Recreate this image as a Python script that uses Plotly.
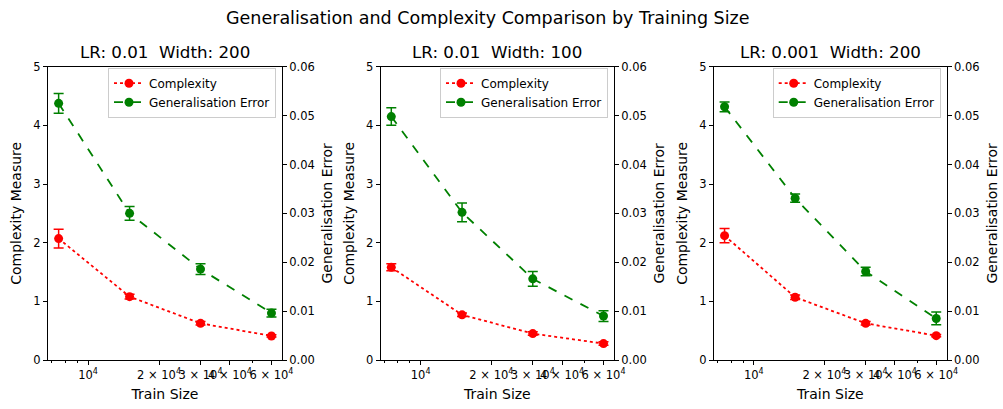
import plotly.graph_objects as go
import math

train_sizes = [7500, 15000, 30000, 60000]
panel_titles = ["LR: 0.01  Width: 200", "LR: 0.01  Width: 100", "LR: 0.001  Width: 200"]

complexity_1 = [2.07, 1.08, 0.625, 0.41]
complexity_err_1 = [0.16, 0.04, 0.03, 0.02]
gen_err_1 = [0.0525, 0.0300, 0.0186, 0.0096]
gen_err_err_1 = [0.0020, 0.0014, 0.0011, 0.0008]

complexity_2 = [1.58, 0.77, 0.45, 0.28]
complexity_err_2 = [0.06, 0.03, 0.03, 0.03]
gen_err_2 = [0.0498, 0.0302, 0.0166, 0.0090]
gen_err_err_2 = [0.0018, 0.0019, 0.0015, 0.0011]

complexity_3 = [2.12, 1.07, 0.625, 0.415]
complexity_err_3 = [0.12, 0.04, 0.03, 0.02]
gen_err_3 = [0.0518, 0.0331, 0.0181, 0.0085]
gen_err_err_3 = [0.0010, 0.00085, 0.00085, 0.0013]

x_tickvals = [10000, 20000, 30000, 40000, 60000]
x_ticktext = ["10<sup>4</sup>", "2 × 10<sup>4</sup>", "3 × 10<sup>4</sup>",
              "4 × 10<sup>4</sup>", "6 × 10<sup>4</sup>"]
x_minor = [7000, 8000, 9000, 50000]
left_ticks = [0, 1, 2, 3, 4, 5]
right_ticks = [0.0, 0.01, 0.02, 0.03, 0.04, 0.05, 0.06]

complexities = [complexity_1, complexity_2, complexity_3]
complexity_errs = [complexity_err_1, complexity_err_2, complexity_err_3]
gen_errs = [gen_err_1, gen_err_2, gen_err_3]
gen_err_errs = [gen_err_err_1, gen_err_err_2, gen_err_err_3]

W, H = 1003, 409
FONT = "DejaVu Sans"
x_domains = [(48 / W, 282 / W), (380.7 / W, 614 / W), (714 / W, 946.7 / W)]
y_domain = (1 - 360 / H, 1 - 66.7 / H)

fig = go.Figure()
layout = {}
annotations = []
xr = [math.log10(6760), math.log10(66500)]

for i in range(3):
    n = i + 1
    xa = "x" if n == 1 else f"x{n}"
    yl_idx = 2 * i + 1
    yr_idx = 2 * i + 2
    yl = "y" if yl_idx == 1 else f"y{yl_idx}"
    yr = f"y{yr_idx}"
    leg = "legend" if n == 1 else f"legend{n}"

    fig.add_trace(go.Scatter(
        x=train_sizes, y=complexities[i], xaxis=xa, yaxis=yl,
        mode="lines+markers", name="Complexity", legend=leg,
        line=dict(color="#ff0000", dash="dot", width=1.8),
        marker=dict(color="#ff0000", size=9),
        error_y=dict(type="data", array=complexity_errs[i], color="#ff0000",
                     thickness=1.5, width=5),
    ))
    fig.add_trace(go.Scatter(
        x=train_sizes, y=gen_errs[i], xaxis=xa, yaxis=yr,
        mode="lines+markers", name="Generalisation Error", legend=leg,
        line=dict(color="#008000", dash="dash", width=1.8),
        marker=dict(color="#008000", size=9),
        error_y=dict(type="data", array=gen_err_errs[i], color="#008000",
                     thickness=1.5, width=5),
    ))

    xkey = "xaxis" if n == 1 else f"xaxis{n}"
    ylkey = "yaxis" if yl_idx == 1 else f"yaxis{yl_idx}"
    yrkey = f"yaxis{yr_idx}"

    layout[xkey] = dict(
        domain=list(x_domains[i]), anchor=yl, type="log", range=xr,
        tickvals=x_tickvals, ticktext=x_ticktext, ticks="outside", ticklen=4,
        tickangle=0,
        tickcolor="black", showline=True, linecolor="black", linewidth=1,
        mirror=True, showgrid=False, zeroline=False,
        tickfont=dict(family=FONT, size=11.5, color="black"),
        minor=dict(tickvals=x_minor, ticks="outside", ticklen=2, tickcolor="black"),
        title=dict(text="Train Size", font=dict(family=FONT, size=14, color="black"),
                   standoff=8),
        automargin=False,
    )
    layout[ylkey] = dict(
        domain=list(y_domain), anchor=xa, range=[0, 5], tickvals=left_ticks,
        ticks="outside", ticklen=4, tickcolor="black", showline=True,
        linecolor="black", linewidth=1, showgrid=False, zeroline=False,
        tickfont=dict(family=FONT, size=11.5, color="black"),
        title=dict(text="Complexity Measure", font=dict(family=FONT, size=14, color="black"),
                   standoff=8),
        automargin=False,
    )
    layout[yrkey] = dict(
        domain=list(y_domain), anchor=xa, overlaying=yl, side="right",
        range=[0, 0.06], tickvals=right_ticks, tickformat=".2f",
        ticks="outside", ticklen=4, tickcolor="black", showline=True,
        linecolor="black", linewidth=1, showgrid=False, zeroline=False,
        tickfont=dict(family=FONT, size=11.5, color="black"),
        title=dict(text="Generalisation Error", font=dict(family=FONT, size=14, color="black"),
                   standoff=8),
        automargin=False,
    )
    layout[leg] = dict(
        x=x_domains[i][1] - 6 / W, y=y_domain[1] - 1 / H, xanchor="right", yanchor="top",
        xref="paper", yref="paper",
        bgcolor="rgba(255,255,255,0.8)", bordercolor="#cccccc", borderwidth=1,
        font=dict(family=FONT, size=12, color="black"), tracegroupgap=0,
        itemwidth=30,
    )
    annotations.append(dict(
        text=panel_titles[i], x=(x_domains[i][0] + x_domains[i][1]) / 2,
        y=y_domain[1], xref="paper", yref="paper", xanchor="center",
        yanchor="bottom", yshift=3, showarrow=False,
        font=dict(family=FONT, size=16.7, color="black"),
    ))

annotations.append(dict(
    text="Generalisation and Complexity Comparison by Training Size",
    x=488 / W, y=1 - 18 / H, xref="paper", yref="paper", xanchor="center",
    yanchor="middle", showarrow=False,
    font=dict(family=FONT, size=17.5, color="black"),
))

fig.update_layout(
    width=W, height=H, margin=dict(l=0, r=0, t=0, b=0),
    paper_bgcolor="white", plot_bgcolor="white",
    font=dict(family=FONT, color="black"),
    annotations=annotations, **layout,
)

fig.write_html("out.html")
